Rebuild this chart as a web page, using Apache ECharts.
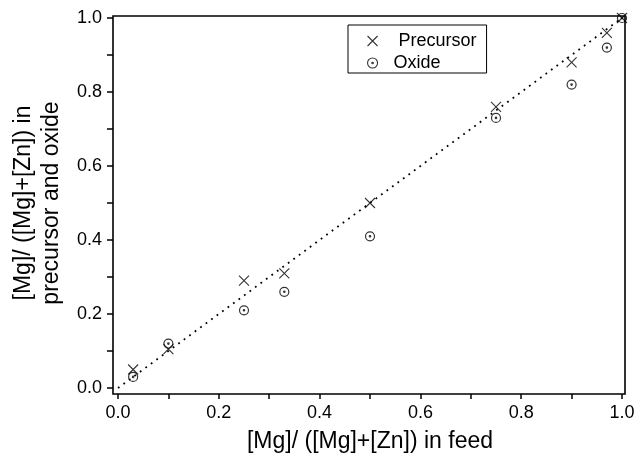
<!DOCTYPE html>
<html>
<head>
<meta charset="utf-8">
<script src="https://cdn.jsdelivr.net/npm/echarts@6/dist/echarts.min.js"></script>
<style>
  html, body { margin: 0; padding: 0; background: #fff; }
  #chart { width: 635px; height: 454px; }
</style>
</head>
<body>
<div id="chart"></div>
<script>
// [Mg]/([Mg]+[Zn]) in feed
const feed = [0.03, 0.1, 0.25, 0.33, 0.5, 0.75, 0.9, 0.97, 1.0];
// measured ratio in precursor and in oxide
const precursor = [0.05, 0.105, 0.29, 0.31, 0.50, 0.76, 0.88, 0.96, 1.0];
const oxide = [0.03, 0.12, 0.21, 0.26, 0.41, 0.73, 0.82, 0.92, 1.0];
// y = x reference
const diagonal = [[0, 0], [1, 1]];

const font = "'Liberation Sans', Arial, sans-serif";
const crossIcon = 'path://M0,0L10,10M10,0L0,10';
const dotCircleIcon = 'path://M10,5A5,5,0,1,1,0,5A5,5,0,1,1,10,5ZM5.8,5A0.8,0.8,0,1,1,4.2,5A0.8,0.8,0,1,1,5.8,5Z';

const pairs = (xs, ys) => xs.map((x, i) => [x, ys[i]]);

// grid 0 holds the data, grid 1 / grid 2 only carry the outward ticks,
// which sit a few px outside the data area (on the frame)
const hiddenAxis = (gridIndex) => ({ type: 'value', gridIndex, min: 0, max: 1, show: false });

const tickAxis = (gridIndex, tickLen, margin) => ({
  type: 'value',
  gridIndex,
  min: 0,
  max: 1,
  interval: 0.2,
  axisLine: { show: false },
  axisTick: { show: true, length: tickLen, lineStyle: { color: '#000', width: 1.5 } },
  minorTick: { show: true, splitNumber: 2, length: tickLen, lineStyle: { color: '#000', width: 1.5 } },
  splitLine: { show: false },
  axisLabel: {
    color: '#000',
    fontSize: 18,
    fontFamily: font,
    margin,
    formatter: v => v.toFixed(1)
  },
  nameLocation: 'middle',
  nameTextStyle: { color: '#000', fontSize: 23, fontFamily: font, lineHeight: 28 }
});

const myChart = echarts.init(document.getElementById('chart'));
myChart.setOption({
  animation: false,
  backgroundColor: '#fff',
  grid: [
    { left: 118, right: 13, top: 18, bottom: 66, outerBoundsMode: 'none' },
    { left: 118, right: 13, top: 18, bottom: 60, outerBoundsMode: 'none' },
    { left: 113, right: 13, top: 18, bottom: 66, outerBoundsMode: 'none' }
  ],
  graphic: [{
    type: 'rect',
    shape: { x: 113, y: 16, width: 512, height: 378 },
    style: { fill: 'none', stroke: '#000', lineWidth: 1.6 },
    z: 10
  }],
  xAxis: [
    hiddenAxis(0),
    Object.assign(tickAxis(1, 5, 10), { name: '[Mg]/ ([Mg]+[Zn]) in feed', nameGap: 34 }),
    hiddenAxis(2)
  ],
  yAxis: [
    hiddenAxis(0),
    hiddenAxis(1),
    Object.assign(tickAxis(2, 6, 11), { name: '[Mg]/ ([Mg]+[Zn]) in\nprecursor and oxide', nameGap: 44 })
  ],
  legend: {
    data: ['Precursor', 'Oxide'],
    orient: 'vertical',
    left: 348,
    top: 25,
    padding: [6, 10, 0, 19],
    itemWidth: 10,
    itemHeight: 10,
    itemGap: 2,
    borderColor: '#000',
    borderWidth: 1,
    borderRadius: 0,
    backgroundColor: '#fff',
    itemStyle: { color: 'transparent', borderColor: '#000', borderWidth: 1.1 },
    textStyle: { color: '#000', fontSize: 18, fontFamily: font, lineHeight: 20, padding: [0, 0, 0, 11] },
    formatter: name => (name === 'Precursor' ? ' ' + name : name)
  },
  series: [
    {
      name: 'y=x',
      type: 'line',
      data: diagonal,
      symbol: 'none',
      silent: true,
      lineStyle: { color: '#000', width: 1.8, type: [1.8, 5] }
    },
    {
      name: 'Precursor',
      type: 'scatter',
      data: pairs(feed, precursor),
      symbol: crossIcon,
      symbolSize: 10,
      itemStyle: { color: 'transparent', borderColor: '#000', borderWidth: 1.1 }
    },
    {
      name: 'Oxide',
      type: 'scatter',
      data: pairs(feed, oxide),
      symbol: dotCircleIcon,
      symbolSize: 9,
      itemStyle: { color: 'transparent', borderColor: '#000', borderWidth: 1.2 }
    }
  ]
});
window.addEventListener('resize', () => myChart.resize());
</script>
</body>
</html>
